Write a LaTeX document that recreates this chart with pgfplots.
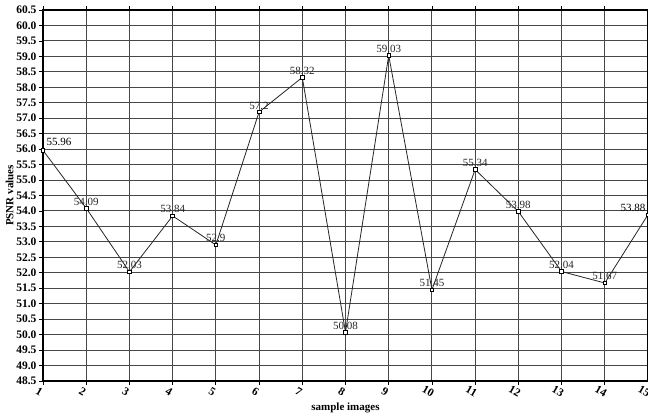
\documentclass[border=0pt]{standalone}
\usepackage{fontspec}
\setmainfont{Liberation Serif}
\usepackage{pgfplots}
\pgfplotsset{compat=1.18}
\begin{document}
\begin{tikzpicture}
\useasboundingbox (-43pt,-38pt) rectangle (605pt,381pt);
\begin{axis}[
  at={(0,0)}, anchor=south west,
  scale only axis, width=605pt, height=371pt,
  xmin=1, xmax=15, ymin=48.5, ymax=60.5,
  xtick={1,...,15}, ytick={48.5,49,...,60.5},
  /pgf/number format/assume math mode=true,
  yticklabel={\pgfmathprintnumber[fixed,fixed zerofill,precision=1]{\tick}},
  grid=major,
  major grid style={black!72, line width=1pt},
  axis line style={black, line width=1.3pt},
  tick align=outside, major tick length=4pt,
  tick style={black, line width=0.8pt},
  y tick label style={font=\bfseries\fontsize{11.5}{11.5}\selectfont, xshift=1pt},
  x tick label style={rotate=-30, anchor=north, font=\bfseries\fontsize{11.5}{11.5}\selectfont},
  xlabel={sample images}, ylabel={PSNR values},
  xlabel style={at={(axis description cs:0.5,-0.073)}, anchor=center, font=\bfseries\fontsize{11}{11}\selectfont},
  ylabel style={at={(axis description cs:-0.055,0.5)}, anchor=center, font=\bfseries\fontsize{11}{11}\selectfont},
  point meta=explicit symbolic,
]
\addplot[black!85, line width=0.8pt, mark=square*, mark size=1.8pt,
  mark options={fill=white, draw=black, line width=0.7pt},
  nodes near coords,
  every node near coord/.append style={anchor=south, yshift=1pt, inner sep=1.5pt, font=\fontsize{11}{11}\selectfont}]
coordinates {
 (1,55.96) []
 (2,54.09) [54.09]
 (3,52.03) [52.03]
 (4,53.84) [53.84]
 (5,52.9) [52.9]
 (6,57.2) [57.2]
 (7,58.32) [58.32]
 (8,50.08) [50.08]
 (9,59.03) [59.03]
 (10,51.45) [51.45]
 (11,55.34) [55.34]
 (12,53.98) [53.98]
 (13,52.04) [52.04]
 (14,51.67) [51.67]
 (15,53.88) []
};
\addplot[draw=none, mark=none, nodes near coords,
  every node near coord/.append style={anchor=south west, xshift=2pt, yshift=3pt, inner sep=1.5pt, font=\fontsize{11}{11}\selectfont}]
coordinates {(1,55.96) [55.96]};
\addplot[draw=none, mark=none, nodes near coords,
  every node near coord/.append style={anchor=south east, xshift=-1pt, yshift=1pt, inner sep=1.5pt, font=\fontsize{11}{11}\selectfont}]
coordinates {(15,53.88) [53.88]};
\end{axis}
\end{tikzpicture}
\end{document}
